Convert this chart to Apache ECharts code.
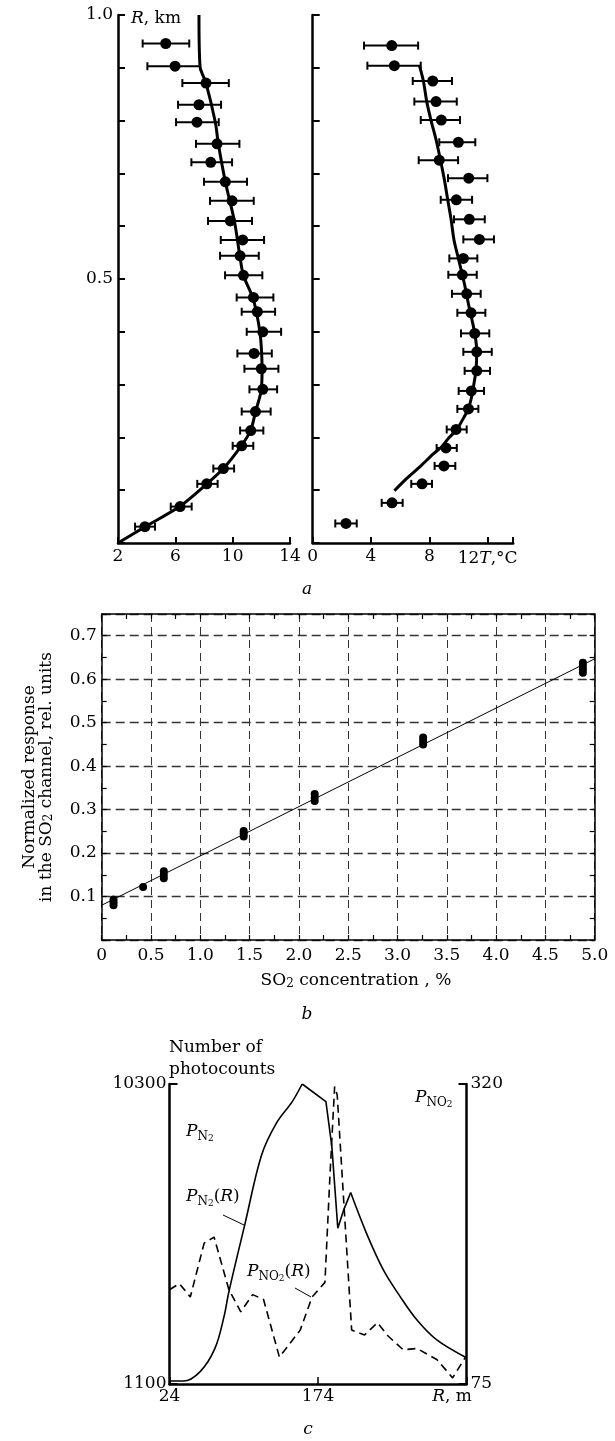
<!DOCTYPE html>
<html>
<head>
<meta charset="utf-8">
<title>Temperature profiles, SO2 calibration, lidar returns</title>
<script src="https://cdn.jsdelivr.net/npm/echarts/dist/echarts.min.js"></script>
<style>
    html, body { margin: 0; padding: 0; background: #fff; }
    #chart { width: 615px; height: 1441px; }
</style>
</head>
<body>
<div id="chart"></div>
<script>
// ---- panel a, left: T (deg C) against height R (km), with error bars
var leftR  = [0.946, 0.903, 0.871, 0.830, 0.797, 0.756, 0.721, 0.684, 0.648, 0.610, 0.574, 0.544, 0.507,
              0.465, 0.438, 0.400, 0.359, 0.330, 0.291, 0.249, 0.213, 0.184, 0.141, 0.112, 0.069, 0.031];
var leftT  = [5.33, 5.98, 8.14, 7.65, 7.51, 8.91, 8.47, 9.49, 9.96, 9.84, 10.70, 10.52, 10.75,
              11.45, 11.72, 12.10, 11.49, 12.00, 12.10, 11.59, 11.26, 10.63, 9.35, 8.19, 6.33, 3.88];
var leftLo = [3.72, 4.05, 6.49, 6.19, 6.05, 7.44, 7.12, 8.00, 8.42, 8.28, 9.17, 9.12, 9.47,
              10.28, 10.63, 10.98, 10.33, 10.82, 11.17, 10.63, 10.52, 10.00, 8.65, 7.53, 5.68, 3.19];
var leftHi = [6.97, 7.72, 9.73, 9.19, 9.03, 10.47, 9.96, 11.00, 11.47, 11.35, 12.19, 11.82, 12.07,
              12.84, 12.96, 13.38, 12.73, 13.19, 13.10, 12.65, 12.14, 11.44, 10.10, 8.95, 7.14, 4.58];
var leftFitT = [2.0, 3.9, 6.3, 8.2, 9.35, 10.6, 11.25, 11.6, 12.0, 12.05, 12.0, 11.9, 11.65, 11.4, 10.75,
                10.5, 10.12, 9.49, 9.0, 8.79, 8.14, 7.72, 7.65];
var leftFitR = [0.0, 0.031, 0.069, 0.112, 0.141, 0.184, 0.213, 0.249, 0.291, 0.33, 0.37, 0.40, 0.438, 0.465, 0.507,
                0.544, 0.61, 0.684, 0.756, 0.797, 0.871, 0.903, 1.0];

// ---- panel a, right
var rightR  = [0.942, 0.904, 0.875, 0.836, 0.801, 0.759, 0.725, 0.691, 0.650, 0.613, 0.575, 0.539, 0.508,
               0.472, 0.436, 0.397, 0.362, 0.326, 0.288, 0.254, 0.215, 0.180, 0.146, 0.112, 0.076, 0.037];
var rightT  = [5.42, 5.60, 8.23, 8.46, 8.82, 9.99, 8.68, 10.70, 9.85, 10.74, 11.43, 10.33, 10.26,
               10.56, 10.86, 11.11, 11.25, 11.25, 10.88, 10.68, 9.83, 9.14, 9.00, 7.50, 5.44, 2.28];
var rightLo = [3.52, 3.75, 6.86, 6.97, 7.41, 8.68, 7.27, 9.28, 8.78, 9.69, 10.33, 9.37, 9.30,
               9.55, 9.92, 10.17, 10.33, 10.42, 10.01, 9.92, 9.19, 8.50, 8.36, 6.76, 4.73, 1.55];
var rightHi = [7.23, 7.41, 9.55, 9.88, 10.10, 11.15, 9.97, 11.98, 10.93, 11.80, 12.43, 11.29, 11.25,
               11.52, 11.84, 12.11, 12.28, 12.16, 11.75, 11.36, 10.56, 9.88, 9.78, 8.18, 6.17, 3.02];
var rightFitT = [5.60, 6.45, 7.36, 8.27, 8.85, 9.30, 9.88, 10.33, 10.67, 10.90, 11.06, 11.20, 11.25, 11.15,
                 10.93, 10.67, 10.45, 10.26, 9.99, 9.69, 9.49, 9.26, 9.01, 8.50, 8.11, 7.82, 7.59, 7.31];
var rightFitR = [0.099, 0.1225, 0.1446, 0.1686, 0.1824, 0.198, 0.215, 0.236, 0.254, 0.277, 0.302, 0.328, 0.362, 0.391,
                 0.422, 0.454, 0.485, 0.508, 0.539, 0.574, 0.613, 0.650, 0.691, 0.759, 0.801, 0.836, 0.875, 0.905];

// ---- panel b: SO2 calibration
var so2Conc = [0.12, 0.12, 0.12, 0.42, 0.63, 0.63, 0.63, 1.44, 1.44, 1.44, 2.16, 2.16, 2.16,
               3.26, 3.26, 3.26, 4.88, 4.88, 4.88, 4.88];
var so2Resp = [0.080, 0.087, 0.093, 0.122, 0.142, 0.150, 0.158, 0.238, 0.245, 0.251, 0.320, 0.328, 0.336,
               0.450, 0.458, 0.466, 0.615, 0.623, 0.631, 0.638];
var fitConc = [0, 5.0];
var fitResp = [0.08, 0.647];

// ---- panel c: photocounts along range R (m)
var n2RiseR = [24, 38, 55, 70, 79, 84, 100, 117, 132, 148, 158];
var n2RiseN = [1190, 1190, 1480, 2200, 3160, 3930, 5980, 8120, 9100, 9760, 10300];
var n2PeakR = [158, 182, 188, 194, 200, 207];
var n2PeakN = [10300, 9760, 8380, 5880, 6440, 6970];
var n2TailR = [207, 223, 240, 257, 274, 294, 323];
var n2TailN = [6970, 5720, 4600, 3780, 3060, 2450, 1920];
var no2R = [24, 34, 45, 59, 69, 84, 96, 108, 119, 135, 156, 168, 181, 186, 190.8, 193.4, 208,
            221, 234, 245, 260, 274, 294, 310, 323];
var no2P = [152, 157, 146, 190, 195, 152, 134, 148, 144, 97, 119, 146, 158, 244, 318, 311, 119,
            115, 125, 114, 103, 104, 95, 80, 97];

var FONT = 'DejaVu Serif';
var INK = '#000';

function pairs(xs, ys) {
    return xs.map(function (x, i) { return [x, ys[i]]; });
}
function bars(lo, hi, ys) {
    return lo.map(function (l, i) { return [l, hi[i], ys[i]]; });
}

function renderErr(params, api) {
    var y = api.value(2);
    var a = api.coord([api.value(0), y]);
    var b = api.coord([api.value(1), y]);
    var st = { stroke: INK, lineWidth: 2 };
    return {
        type: 'group',
        children: [
            { type: 'line', shape: { x1: a[0], y1: a[1], x2: b[0], y2: b[1] }, style: st },
            { type: 'line', shape: { x1: a[0], y1: a[1] - 4, x2: a[0], y2: a[1] + 4 }, style: st },
            { type: 'line', shape: { x1: b[0], y1: b[1] - 4, x2: b[0], y2: b[1] + 4 }, style: st }
        ]
    };
}

// one level deep merge, enough for axis options
function ax(o) {
    var base = {
        type: 'value',
        axisLine: { show: true, onZero: false, lineStyle: { color: INK, width: 2.5 } },
        axisTick: { show: true, inside: true, length: 6, lineStyle: { color: INK, width: 2 } },
        axisLabel: { color: INK, fontFamily: FONT, fontSize: 17, margin: 5 },
        splitLine: { show: false }
    };
    Object.keys(o).forEach(function (k) {
        if (base[k] && typeof base[k] === 'object' && !Array.isArray(base[k])) {
            base[k] = Object.assign({}, base[k], o[k]);
        } else {
            base[k] = o[k];
        }
    });
    return base;
}

var rich = {
    i: { fontFamily: FONT, fontSize: 17, fontStyle: 'italic', color: INK, lineHeight: 22 },
    n: { fontFamily: FONT, fontSize: 17, color: INK, lineHeight: 22 },
    s: { fontFamily: FONT, fontSize: 12, color: INK, verticalAlign: 'bottom', lineHeight: 12 },
    ss: { fontFamily: FONT, fontSize: 9, color: INK, verticalAlign: 'bottom', lineHeight: 9 }
};

function txt(x, y, text, align, extra) {
    var el = {
        type: 'text', x: x, y: y, silent: true,
        style: {
            text: text, rich: rich, fontFamily: FONT, fontSize: 17, fill: INK,
            align: align || 'left', verticalAlign: 'middle'
        }
    };
    return Object.assign(el, extra || {});
}

var near = function (v, t) { return Math.abs(v - t) < 1e-6; };
var plain = function (v) { return String(v); };

var bDash = { color: '#333', width: 1, type: [8, 5] };
var dot = { color: INK, opacity: 1 };

var option = {
    animation: false,
    backgroundColor: '#fff',
    textStyle: { fontFamily: FONT },
    grid: [
        { left: 118, top: 15, width: 172, height: 528, containLabel: false, outerBoundsMode: 'none' },
        { left: 312.7, top: 15, width: 200.5, height: 528, containLabel: false, outerBoundsMode: 'none' },
        { left: 101.7, top: 614, width: 493, height: 326, containLabel: false, outerBoundsMode: 'none' },
        { left: 169.5, top: 1084, width: 297, height: 300, containLabel: false, outerBoundsMode: 'none' }
    ],
    xAxis: [
        ax({ gridIndex: 0, min: 2, max: 14, interval: 4, axisLabel: { formatter: plain } }),
        ax({
            gridIndex: 1, min: 0, max: 13.75, interval: 4,
            axisLabel: {
                rich: rich,
                formatter: function (v) {
                    if (near(v, 12)) return '12{i|T},°C';
                    return near(v % 4, 0) ? String(v) : '';
                }
            }
        }),
        ax({
            gridIndex: 2, min: 0, max: 5, interval: 0.5, position: 'bottom',
            axisLine: { show: true, onZero: false, lineStyle: { color: INK, width: 1.5 } },
            axisTick: { show: true, inside: true, length: 5, lineStyle: { color: INK, width: 1.2 } },
            minorTick: { show: true, splitNumber: 2, length: 5, lineStyle: { color: INK, width: 1.2 } },
            axisLabel: { margin: 7, formatter: function (v) { return v === 0 ? '0' : v.toFixed(1); } },
            splitLine: { show: true, lineStyle: bDash }
        }),
        ax({
            gridIndex: 2, min: 0, max: 5, interval: 0.5, position: 'top',
            axisLine: { show: true, onZero: false, lineStyle: { color: INK, width: 1.5 } },
            axisTick: { show: true, inside: true, length: 5, lineStyle: { color: INK, width: 1.2 } },
            minorTick: { show: true, splitNumber: 2, length: 5, lineStyle: { color: INK, width: 1.2 } },
            axisLabel: { show: false }
        }),
        ax({
            gridIndex: 3, min: 24, max: 324, interval: 150,
            axisTick: { show: true, inside: true, length: 7, lineStyle: { color: INK, width: 1.5 } },
            axisLabel: { margin: 4, formatter: function (v) { return near(v, 324) ? '' : String(v); } }
        })
    ],
    yAxis: [
        ax({
            gridIndex: 0, min: 0, max: 1, interval: 0.1,
            axisTick: { show: true, inside: true, length: 7, lineStyle: { color: INK, width: 2 } },
            axisLabel: {
                formatter: function (v) {
                    if (near(v, 0.5)) return '0.5';
                    if (near(v, 1)) return '1.0';
                    return '';
                }
            }
        }),
        ax({
            gridIndex: 1, min: 0, max: 1, interval: 0.1,
            axisTick: { show: true, inside: true, length: 7, lineStyle: { color: INK, width: 2 } },
            axisLabel: { show: false }
        }),
        ax({
            gridIndex: 2, min: 0, max: 0.75, interval: 0.1, position: 'left',
            axisLine: { show: true, onZero: false, lineStyle: { color: INK, width: 1.5 } },
            axisTick: { show: true, inside: true, length: 5, lineStyle: { color: INK, width: 1.2 } },
            minorTick: { show: true, splitNumber: 2, length: 5, lineStyle: { color: INK, width: 1.2 } },
            axisLabel: {
                margin: 5,
                formatter: function (v) { return (v > 0.05 && v < 0.72) ? v.toFixed(1) : ''; }
            },
            splitLine: { show: true, lineStyle: { color: '#333', width: 1.3, type: [9, 5] } }
        }),
        ax({
            gridIndex: 2, min: 0, max: 0.75, interval: 0.1, position: 'right',
            axisLine: { show: true, onZero: false, lineStyle: { color: INK, width: 1.5 } },
            axisTick: { show: true, inside: true, length: 5, lineStyle: { color: INK, width: 1.2 } },
            minorTick: { show: true, splitNumber: 2, length: 5, lineStyle: { color: INK, width: 1.2 } },
            axisLabel: { show: false }
        }),
        ax({
            gridIndex: 3, min: 1100, max: 10300, interval: 9200, position: 'left',
            axisTick: { show: true, inside: true, length: 8, lineStyle: { color: INK, width: 2 } },
            axisLabel: { margin: 3, formatter: plain }
        }),
        ax({
            gridIndex: 3, min: 75, max: 320, interval: 245, position: 'right',
            axisTick: { show: true, inside: true, length: 8, lineStyle: { color: INK, width: 2 } },
            axisLabel: { margin: 4, formatter: plain }
        })
    ],
    series: [
        // panel a, left
        {
            type: 'custom', xAxisIndex: 0, yAxisIndex: 0, renderItem: renderErr,
            encode: { x: [0, 1], y: 2 }, data: bars(leftLo, leftHi, leftR), silent: true
        },
        {
            type: 'scatter', xAxisIndex: 0, yAxisIndex: 0, symbolSize: 11,
            itemStyle: dot, data: pairs(leftT, leftR), silent: true
        },
        {
            type: 'line', xAxisIndex: 0, yAxisIndex: 0, showSymbol: false, symbol: 'none',
            smooth: 0.3, lineStyle: { color: INK, width: 3 }, data: pairs(leftFitT, leftFitR), silent: true
        },
        // panel a, right
        {
            type: 'custom', xAxisIndex: 1, yAxisIndex: 1, renderItem: renderErr,
            encode: { x: [0, 1], y: 2 }, data: bars(rightLo, rightHi, rightR), silent: true
        },
        {
            type: 'scatter', xAxisIndex: 1, yAxisIndex: 1, symbolSize: 11,
            itemStyle: dot, data: pairs(rightT, rightR), silent: true
        },
        {
            type: 'line', xAxisIndex: 1, yAxisIndex: 1, showSymbol: false, symbol: 'none',
            smooth: 0.3, lineStyle: { color: INK, width: 3 }, data: pairs(rightFitT, rightFitR), silent: true
        },
        // panel b
        {
            type: 'line', xAxisIndex: 2, yAxisIndex: 2, showSymbol: false, symbol: 'none',
            lineStyle: { color: INK, width: 1 }, data: pairs(fitConc, fitResp), silent: true, z: 3
        },
        {
            type: 'scatter', xAxisIndex: 2, yAxisIndex: 2, symbolSize: 8,
            itemStyle: dot, data: pairs(so2Conc, so2Resp), silent: true, z: 4
        },
        // panel c
        {
            type: 'line', xAxisIndex: 4, yAxisIndex: 4, showSymbol: false, symbol: 'none',
            smooth: 0.35, lineStyle: { color: INK, width: 1.6 }, data: pairs(n2RiseR, n2RiseN), silent: true
        },
        {
            type: 'line', xAxisIndex: 4, yAxisIndex: 4, showSymbol: false, symbol: 'none',
            lineStyle: { color: INK, width: 1.6 }, data: pairs(n2PeakR, n2PeakN), silent: true
        },
        {
            type: 'line', xAxisIndex: 4, yAxisIndex: 4, showSymbol: false, symbol: 'none',
            smooth: 0.35, lineStyle: { color: INK, width: 1.6 }, data: pairs(n2TailR, n2TailN), silent: true
        },
        {
            type: 'line', xAxisIndex: 4, yAxisIndex: 5, showSymbol: false, symbol: 'none',
            lineStyle: { color: INK, width: 1.6, type: [8, 5] }, data: pairs(no2R, no2P), silent: true
        }
    ],
    graphic: [
        txt(131, 19, '{i|R}, km'),
        txt(307, 590, '{i|a}', 'center'),
        txt(38, 777, 'Normalized response\nin the SO{s|2} channel, rel. units', 'center',
            { rotation: Math.PI / 2 }),
        txt(356, 981, 'SO{s|2} concentration , %', 'center'),
        txt(307, 1015, '{i|b}', 'center'),
        txt(169, 1048, 'Number of', 'left'),
        txt(169, 1070, 'photocounts', 'left'),
        txt(186, 1132, '{i|P}{s|N}{ss|2}', 'left'),
        txt(186, 1197, '{i|P}{s|N}{ss|2}({i|R})', 'left'),
        txt(247, 1272, '{i|P}{s|NO}{ss|2}({i|R})', 'left'),
        txt(415, 1098, '{i|P}{s|NO}{ss|2}', 'left'),
        txt(452, 1397, '{i|R}, m', 'center'),
        txt(308, 1430, '{i|c}', 'center'),
        { type: 'line', silent: true, shape: { x1: 223, y1: 1215, x2: 244, y2: 1225 }, style: { stroke: INK, lineWidth: 1 } },
        { type: 'line', silent: true, shape: { x1: 295, y1: 1288, x2: 311, y2: 1297 }, style: { stroke: INK, lineWidth: 1 } }
    ]
};

var chart = echarts.init(document.getElementById('chart'), null, { renderer: 'canvas' });
chart.setOption(option);
</script>
</body>
</html>
